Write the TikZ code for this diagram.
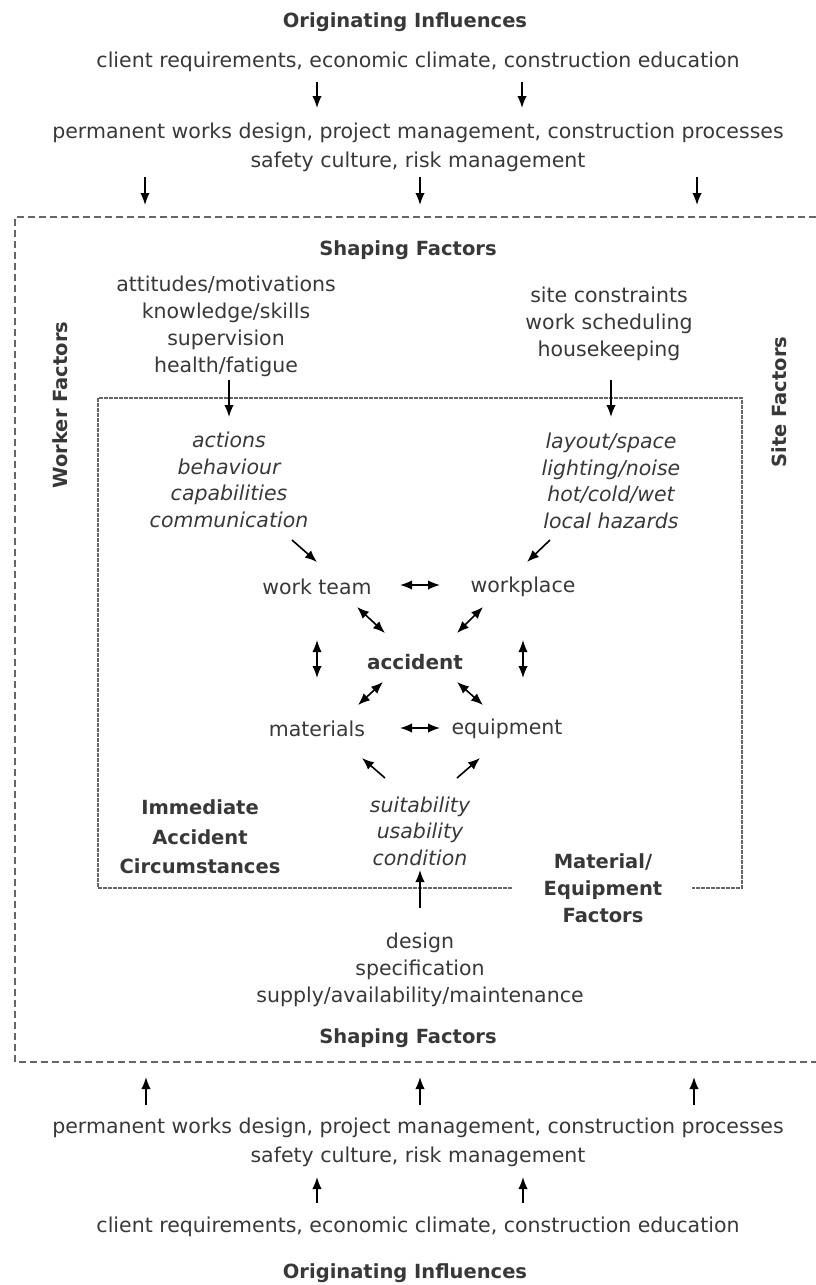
\documentclass[tikz,border=0pt]{standalone}
\usepackage{fontspec}
\setmainfont{DejaVu Sans}
\usetikzlibrary{arrows.meta}
\definecolor{txtgray}{gray}{0.22}
\definecolor{boxgray}{gray}{0.4}

\begin{document}
\begin{tikzpicture}[x=1pt, y=-1pt,
    >={Latex[length=12pt,width=9.5pt]},
    txt/.style={text=txtgray, font=\fontsize{20.5}{27}\selectfont, align=center, inner sep=0pt},
    head/.style={txt, font=\fontsize{19.5}{28}\selectfont\bfseries},
    itl/.style={txt, font=\fontsize{20.5}{26.5}\selectfont\itshape},
    arr/.style={->, line width=1.6pt},
    dbl/.style={<->, line width=1.6pt}]

  \useasboundingbox (0,0) rectangle (816,1285);

  % Outer and inner boxes
  \coordinate (ob_nw) at (15,217);
  \coordinate (ob_sw) at (15,1062);
  \draw[boxgray, line width=1.4pt, dash pattern=on 7pt off 4pt] (816,217) -- (ob_nw) -- (ob_sw) -- (816,1062);
  \coordinate (ib_nw) at (98,398);
  \coordinate (ib_se) at (742,888);
  \draw[boxgray, line width=1.3pt, dash pattern=on 4pt off 1pt] (512,888) -- (ib_nw |- ib_se) -- (ib_nw) -- (ib_se |- ib_nw) -- (ib_se) -- (692,888);

  % Originating influences (top)
  \node[head] (origT) at (405,22) {Originating Influences};
  \node[txt] (clientT) at (418,62) {client requirements, economic climate, construction education};
  \node[txt] (permT) at (418,147) {permanent works design, project management, construction processes\\[2pt] safety culture, risk management};
  \draw[arr] ([shift={(-101,20)}]clientT.center) -- ([shift={(-101,-39)}]permT.center);
  \draw[arr] ([shift={(104,20)}]clientT.center) -- ([shift={(104,-39)}]permT.center);
  \draw[arr] ([shift={(-273,30)}]permT.center) -- ([shift={(130,-12)}]ob_nw);
  \draw[arr] ([shift={(2,30)}]permT.center) -- ([shift={(405,-12)}]ob_nw);
  \draw[arr] ([shift={(279,30)}]permT.center) -- ([shift={(682,-12)}]ob_nw);

  % Shaping factors (worker, site)
  \node[head] (shapeT) at (408,250) {Shaping Factors};
  \node[head, rotate=90] (workerF) at (60,405) {Worker Factors};
  \node[head, rotate=90] (siteF) at (779,402) {Site Factors};
  \node[txt] (worker) at (226,326) {attitudes/motivations\\knowledge/skills\\supervision\\health/fatigue};
  \node[txt] (site) at (609,324) {site constraints\\work scheduling\\housekeeping};

  % Immediate circumstances
  \node[itl] (actions) at (229,480) {actions\\behaviour\\capabilities\\communication};
  \node[itl] (layout) at (611,481) {layout/space\\lighting/noise\\hot/cold/wet\\local hazards};
  \draw[arr] ([shift={(3,54)}]worker.center) -- ([shift={(0,-63)}]actions.center);
  \draw[arr] ([shift={(2,56)}]site.center) -- ([shift={(0,-64)}]layout.center);

  \node[txt] (workteam) at (317,587) {work team};
  \node[txt] (workplace) at (523,587) {workplace};
  \node[head, font=\fontsize{20}{24}\selectfont\bfseries] (accident) at (415,662) {accident};
  \node[txt] (materials) at (317,729) {materials};
  \node[txt] (equipment) at (507,729) {equipment};

  \draw[arr] ([shift={(63,60)}]actions.center) -- ([shift={(0,-25)}]workteam.center);
  \draw[arr] ([shift={(-61,59)}]layout.center) -- ([shift={(4,-25)}]workplace.center);
  \draw[dbl] ([shift={(83,-2)}]workteam.center) -- ([shift={(-83,-2)}]workplace.center);
  \draw[dbl] ([shift={(83,-1)}]materials.center) -- ([shift={(-67,-1)}]equipment.center);
  \draw[dbl] ([shift={(40,20)}]workteam.center) -- ([shift={(-30,-29)}]accident.center);
  \draw[dbl] ([shift={(-40,20)}]workplace.center) -- ([shift={(42,-29)}]accident.center);
  \draw[dbl] ([shift={(-32,20)}]accident.center) -- ([shift={(41,-24)}]materials.center);
  \draw[dbl] ([shift={(42,20)}]accident.center) -- ([shift={(-24,-24)}]equipment.center);
  \draw[dbl] ([shift={(0,53)}]workteam.center) -- ([shift={(0,-51)}]materials.center);
  \draw[dbl] ([shift={(0,53)}]workplace.center) -- ([shift={(16,-51)}]equipment.center);

  \node[itl] (suit) at (420,831) {suitability\\usability\\condition};
  \draw[arr] ([shift={(-35,-53)}]suit.center) -- ([shift={(45,29)}]materials.center);
  \draw[arr] ([shift={(37,-53)}]suit.center) -- ([shift={(-27,29)}]equipment.center);

  \node[head, font=\fontsize{19.5}{29.5}\selectfont\bfseries] (iac) at (200,837) {Immediate\\Accident\\Circumstances};
  \node[head, font=\fontsize{19.5}{27}\selectfont\bfseries] (mef) at (603,888) {Material/\\Equipment\\Factors};

  % Shaping factors (material/equipment)
  \node[txt] (design) at (420,970) {design\\specification\\supply/availability/maintenance};
  \draw[arr] ([shift={(0,-62)}]design.center) -- ([shift={(0,39)}]suit.center);
  \node[head] (shapeB) at (408,1038) {Shaping Factors};

  % Originating influences (bottom)
  \node[txt] (permB) at (418,1142) {permanent works design, project management, construction processes\\[2pt] safety culture, risk management};
  \node[txt] (clientB) at (418,1227) {client requirements, economic climate, construction education};
  \node[head] (origB) at (405,1273) {Originating Influences};
  \draw[arr] ([shift={(-272,-37)}]permB.center) -- ([shift={(131,15)}]ob_sw);
  \draw[arr] ([shift={(2,-37)}]permB.center) -- ([shift={(405,15)}]ob_sw);
  \draw[arr] ([shift={(276,-37)}]permB.center) -- ([shift={(679,15)}]ob_sw);
  \draw[arr] ([shift={(-101,-24)}]clientB.center) -- ([shift={(-101,35)}]permB.center);
  \draw[arr] ([shift={(105,-24)}]clientB.center) -- ([shift={(105,35)}]permB.center);

\end{tikzpicture}
\end{document}
